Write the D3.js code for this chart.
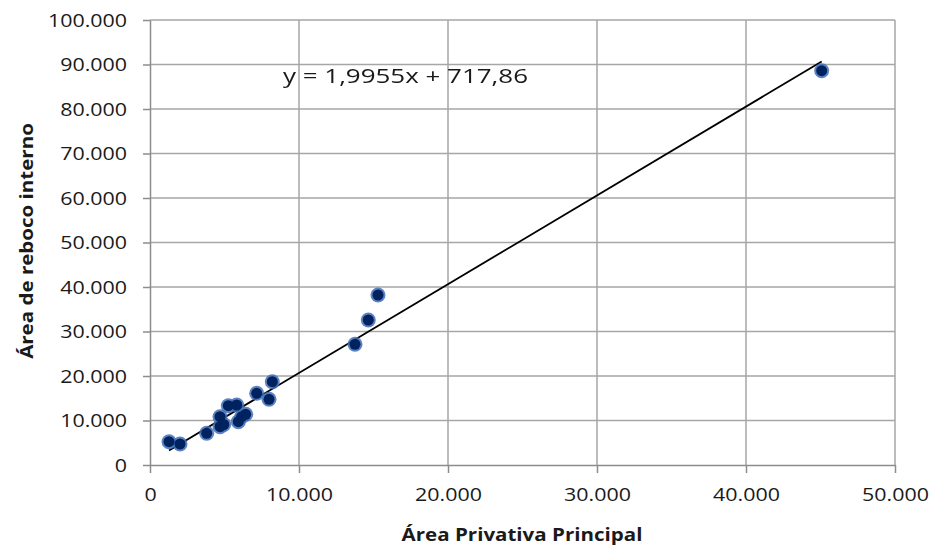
<!DOCTYPE html>
<html>
<head>
<meta charset="utf-8">
<script src="https://cdn.jsdelivr.net/npm/d3@7"></script>
<style>
  html, body { margin: 0; padding: 0; background: #ffffff; }
  svg { display: block; }
  text { font-family: "Open Sans", sans-serif; fill: #1a1a1a; }
</style>
</head>
<body>
<div id="chart"></div>
<script>
// Área privativa principal (x) vs área de reboco interno (y)
const areaPrivativa = [1275, 2013, 3805, 4698, 4698, 4950, 5257, 5819, 5926, 6154, 6423, 7161, 7987, 8208, 13758, 14651, 15302, 45081];
const areaReboco    = [5236, 4719, 7124, 10854, 8607, 9100, 13326, 13483, 9730, 10854, 11393, 16112, 14764, 18719, 27124, 32584, 38202, 88607];

// Linear trend line (Excel-style) coefficients
const slope = 1.9955;
const intercept = 717.86;
const equationLabel = "y = 1,9955x + 717,86";

const xTicks = [0, 10000, 20000, 30000, 40000, 50000];
const yTicks = [0, 10000, 20000, 30000, 40000, 50000, 60000, 70000, 80000, 90000, 100000];

const xTitle = "Área Privativa Principal";
const yTitle = "Área de reboco interno";

const W = 935, H = 549;
const plotLeft = 150, plotRight = 895, plotTop = 20, plotBottom = 465;
const stretch = 1.19;      // horizontal stretch of tick labels
const titleStretch = 1.14; // horizontal stretch of axis titles

const fmt = v => d3.format(",")(v).replace(/,/g, ".");

const svg = d3.select("#chart").append("svg").attr("width", W).attr("height", H);

const defs = svg.append("defs");
defs.append("filter").attr("id", "soft")
  .attr("x", "-50%").attr("y", "-50%").attr("width", "200%").attr("height", "200%")
  .append("feGaussianBlur").attr("stdDeviation", 0.7);

const x = d3.scaleLinear().domain([0, 50000]).range([plotLeft, plotRight]);
const y = d3.scaleLinear().domain([0, 100000]).range([plotBottom, plotTop]);

// Gridlines
const grid = svg.append("g");
grid.selectAll("line.h").data(yTicks.filter(d => d > 0)).join("line")
  .attr("class", "h")
  .attr("x1", plotLeft).attr("x2", plotRight)
  .attr("y1", d => y(d)).attr("y2", d => y(d))
  .attr("stroke", "#a6a6a6").attr("stroke-width", 1.5);
grid.selectAll("line.v").data(xTicks.filter(d => d > 0)).join("line")
  .attr("class", "v")
  .attr("y1", plotTop).attr("y2", plotBottom)
  .attr("x1", d => x(d)).attr("x2", d => x(d))
  .attr("stroke", "#a6a6a6").attr("stroke-width", 1.5);

// Axes
const xAxis = svg.append("g").attr("transform", `translate(0,${plotBottom})`)
  .call(d3.axisBottom(x).tickValues(xTicks).tickFormat(fmt).tickSizeInner(8).tickSizeOuter(0).tickPadding(15));
const yAxis = svg.append("g").attr("transform", `translate(${plotLeft},0)`)
  .call(d3.axisLeft(y).tickValues(yTicks).tickFormat(fmt).tickSizeInner(7).tickSizeOuter(0).tickPadding(6));

[xAxis, yAxis].forEach(a => {
  a.select(".domain").attr("stroke", "#8c8c8c").attr("stroke-width", 1.5);
  a.selectAll(".tick line").attr("stroke", "#8c8c8c").attr("stroke-width", 1.5);
  a.selectAll(".tick text")
    .attr("font-size", 18).attr("fill", "#111")
    .style("font-family", "'Open Sans', sans-serif");
});
xAxis.selectAll(".tick text").attr("transform", `scale(${stretch},1)`);
yAxis.selectAll(".tick text")
  .attr("x", -23 / stretch).attr("dy", "0.36em")
  .attr("transform", `scale(${stretch},1)`);

// Trend line across the observed range
const xMin = d3.min(areaPrivativa), xMax = d3.max(areaPrivativa);
svg.append("line")
  .attr("x1", x(xMin)).attr("y1", y(slope * xMin + intercept))
  .attr("x2", x(xMax)).attr("y2", y(slope * xMax + intercept))
  .attr("stroke", "#000").attr("stroke-width", 1.8);

// Points
const pts = areaPrivativa.map((v, i) => ({ x: v, y: areaReboco[i] }));
const marks = svg.append("g").attr("filter", "url(#soft)");
marks.selectAll("circle.halo").data(pts).join("circle")
  .attr("class", "halo")
  .attr("cx", d => x(d.x)).attr("cy", d => y(d.y)).attr("r", 7.5)
  .attr("fill", "#3f6fb8").attr("opacity", 0.85);
marks.selectAll("circle.core").data(pts).join("circle")
  .attr("class", "core")
  .attr("cx", d => x(d.x)).attr("cy", d => y(d.y)).attr("r", 5.5)
  .attr("fill", "#04215f");

// Equation label
svg.append("text")
  .attr("x", 283).attr("y", 83)
  .attr("font-size", 20)
  .attr("textLength", 245).attr("lengthAdjust", "spacingAndGlyphs")
  .text(equationLabel);

// Axis titles
svg.append("text")
  .attr("transform", `translate(522,541) scale(${titleStretch},1)`)
  .attr("text-anchor", "middle").attr("font-size", 18).attr("font-weight", 700)
  .text(xTitle);
svg.append("text")
  .attr("transform", `translate(33,241) rotate(-90) scale(${titleStretch},1)`)
  .attr("text-anchor", "middle").attr("font-size", 18).attr("font-weight", 700)
  .text(yTitle);
</script>
</body>
</html>
